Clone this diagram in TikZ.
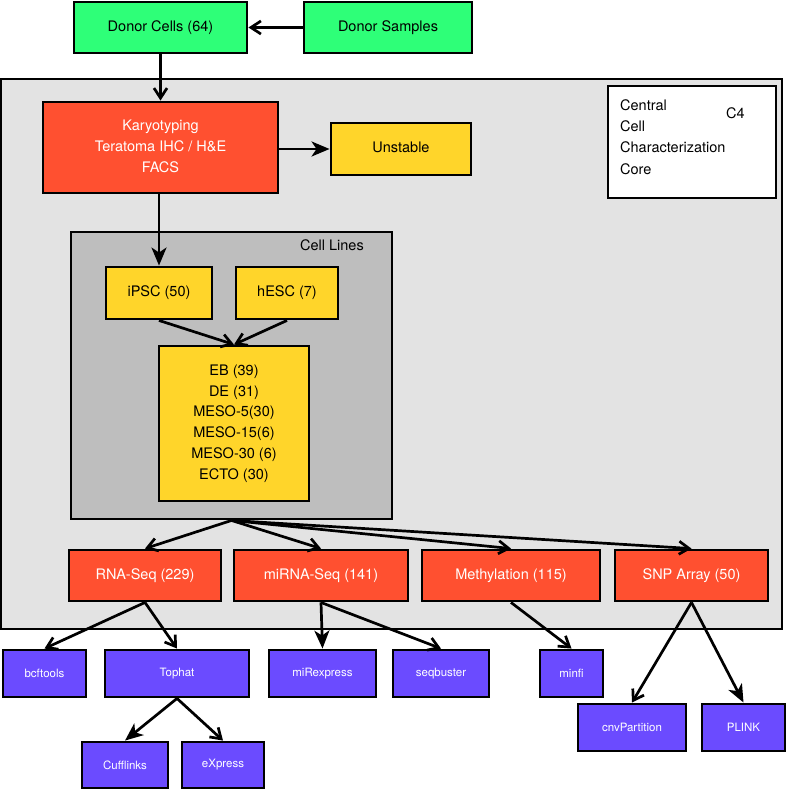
\documentclass[tikz,border=0pt]{standalone}
\usepackage{fontspec}
\setmainfont{TeX Gyre Heros}
\usetikzlibrary{arrows.meta}
\definecolor{cgreen}{HTML}{2EFF78}
\definecolor{cred}{HTML}{FF5030}
\definecolor{cyellow}{HTML}{FFD52A}
\definecolor{cpurple}{HTML}{6B4BFF}
\definecolor{cgrayA}{HTML}{E3E3E3}
\definecolor{cgrayB}{HTML}{BEBEBE}
\tikzset{
  box/.style={draw=black, line width=2.9pt, inner sep=0pt, align=center, font=\fontsize{14.5}{20.7}\selectfont},
  gbox/.style={box, fill=cgreen},
  rbox/.style={box, fill=cred, text=white},
  ybox/.style={box, fill=cyellow},
  pbox/.style={box, fill=cpurple, text=white, font=\fontsize{11.5}{14}\selectfont},
  oarr/.style={line width=2.7pt, -{Straight Barb[length=10pt,width=13pt]}},
  farr/.style={line width=2.7pt, -{Stealth[length=18pt,width=15pt,inset=5pt]}},
  txt/.style={inner sep=0pt, font=\fontsize{14.5}{21.3}\selectfont}
}
\begin{document}
\begin{tikzpicture}[x=1pt,y=-1pt]
\useasboundingbox (0,0) rectangle (787,789);
% containers
\node[draw=black, line width=2.9pt, fill=cgrayA, inner sep=0pt, minimum width=781pt, minimum height=550pt] (core) at (391.5,354) {};
\node[draw=black, line width=2.9pt, fill=white, inner sep=0pt, minimum width=168pt, minimum height=112pt] (c4box) at (692,142) {};
\node[txt, anchor=west, align=left] (c4text) at (620,137) {Central\\Cell\\Characterization\\Core};
\node[txt] (c4label) at (735.5,113) {C4};
\node[draw=black, line width=2.9pt, fill=cgrayB, inner sep=0pt, minimum width=321pt, minimum height=287pt] (cl) at (231.5,375.5) {};
\node[txt, anchor=east] (cllabel) at (364,245) {Cell Lines};
% top
\node[gbox, minimum width=173pt, minimum height=51pt] (donorcells) at (160.5,27.5) {Donor Cells (64)};
\node[gbox, minimum width=168pt, minimum height=51pt] (donorsamples) at (388,27.5) {Donor Samples};
\node[rbox, minimum width=235pt, minimum height=91pt] (kary) at (160.5,147.5) {\raisebox{3pt}{\begin{tabular}{@{}c@{}}Karyotyping\\Teratoma IHC / H\&E\\FACS\end{tabular}}};
\node[ybox, minimum width=140pt, minimum height=52pt] (unstable) at (401,149) {\raisebox{3pt}{Unstable}};
% cell lines
\node[ybox, minimum width=106pt, minimum height=52pt] (ipsc) at (159,293) {iPSC (50)};
\node[ybox, minimum width=102pt, minimum height=52pt] (hesc) at (287,293) {hESC (7)};
\node[ybox, minimum width=150pt, minimum height=155pt] (eb) at (234,423.5) {EB (39)\\DE (31)\\MESO-5(30)\\MESO-15(6)\\MESO-30 (6)\\ECTO (30)};
% assays
\node[rbox, minimum width=152pt, minimum height=51pt] (rna) at (145,575.5) {RNA-Seq (229)};
\node[rbox, minimum width=174pt, minimum height=51pt] (mirna) at (321,575.5) {miRNA-Seq (141)};
\node[rbox, minimum width=178pt, minimum height=51pt] (methyl) at (511,575.5) {Methylation (115)};
\node[rbox, minimum width=153pt, minimum height=51pt] (snp) at (691.5,575.5) {SNP Array (50)};
% tools
\node[pbox, minimum width=83pt, minimum height=47pt] (bcftools) at (44.5,673.5) {bcftools};
\node[pbox, minimum width=144pt, minimum height=47pt] (tophat) at (177,673.5) {Tophat};
\node[pbox, minimum width=107pt, minimum height=47pt] (mirexpress) at (322.5,673.5) {miRexpress};
\node[pbox, minimum width=96pt, minimum height=47pt] (seqbuster) at (441,673.5) {seqbuster};
\node[pbox, minimum width=63pt, minimum height=47pt] (minfi) at (571.5,673.5) {minfi};
\node[pbox, minimum width=108pt, minimum height=47pt] (cnv) at (632,727.5) {cnvPartition};
\node[pbox, minimum width=83pt, minimum height=47pt] (plink) at (743.5,727.5) {PLINK};
\node[pbox, minimum width=86pt, minimum height=46pt] (cufflinks) at (125,765) {Cufflinks};
\node[pbox, minimum width=82pt, minimum height=46pt] (express) at (223,765) {eXpress};
% connectors
\draw[oarr] (donorsamples.west) -- (donorcells.east);
\draw[oarr] (donorcells.south) -- (kary.north);
\draw[farr] (kary.east |- unstable.west) -- (unstable.west);
\draw[farr] (kary.south -| ipsc.north) -- (ipsc.north);
\draw[oarr] (ipsc.south) -- (eb.north);
\draw[oarr] (hesc.south) -- (eb.north);
\draw[oarr] (cl.south) -- (rna.north);
\draw[oarr] (cl.south) -- (mirna.north);
\draw[oarr] (cl.south) -- (methyl.north);
\draw[oarr] (cl.south) -- (snp.north);
\draw[oarr] (rna.south) -- (bcftools.north);
\draw[oarr] (rna.south) -- (tophat.north);
\draw[farr] (mirna.south) -- (mirexpress.north);
\draw[oarr] (mirna.south) -- (seqbuster.north);
\draw[oarr] (methyl.south) -- (minfi.north);
\draw[oarr] (snp.south) -- (cnv.north);
\draw[farr] (snp.south) -- (plink.north);
\draw[farr] (tophat.south) -- (cufflinks.north);
\draw[oarr] (tophat.south) -- (express.north);
\end{tikzpicture}
\end{document}
